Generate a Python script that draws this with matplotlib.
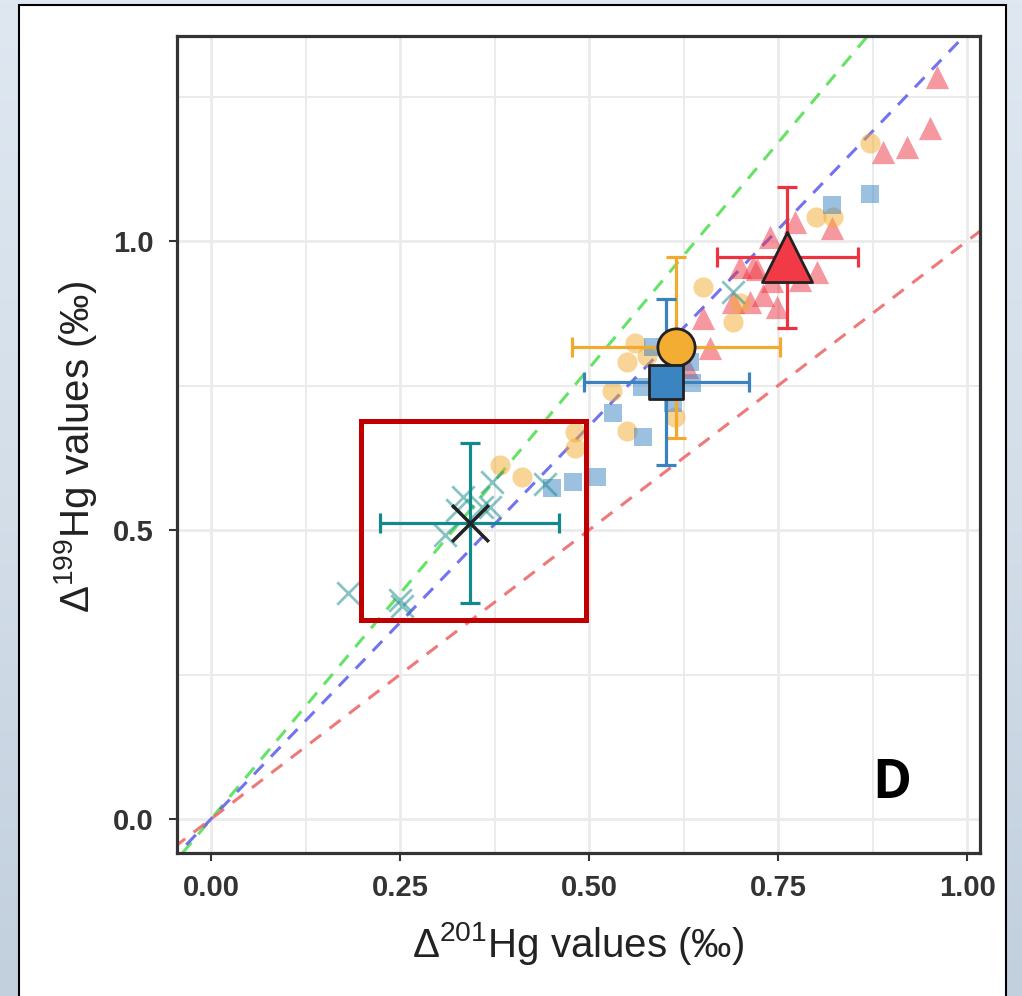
import numpy as np
import matplotlib.pyplot as plt
from matplotlib.patches import Rectangle

plt.rcParams['font.family'] = ['Liberation Sans', 'DejaVu Sans']

# individual samples (D201Hg, D199Hg)
tri_x = [0.960, 0.951, 0.921, 0.889, 0.821, 0.772, 0.739, 0.700, 0.717, 0.802,
         0.779, 0.690, 0.713, 0.730, 0.749, 0.651, 0.660, 0.630, 0.722, 0.742]
tri_y = [1.284, 1.195, 1.163, 1.154, 1.022, 1.033, 1.007, 0.955, 0.955, 0.946,
         0.933, 0.894, 0.894, 0.907, 0.886, 0.867, 0.815, 0.782, 0.951, 0.930]

circ_x = [0.872, 0.800, 0.823, 0.651, 0.700, 0.690, 0.561, 0.550, 0.577, 0.530,
          0.550, 0.614, 0.481, 0.481, 0.382, 0.411]
circ_y = [1.170, 1.042, 1.042, 0.920, 0.893, 0.860, 0.824, 0.791, 0.801, 0.740,
          0.671, 0.696, 0.670, 0.642, 0.612, 0.592]

sq_x = [0.872, 0.821, 0.585, 0.634, 0.636, 0.570, 0.532, 0.571, 0.611, 0.451,
        0.479, 0.511]
sq_y = [1.082, 1.062, 0.817, 0.791, 0.754, 0.747, 0.702, 0.661, 0.720, 0.573,
        0.583, 0.592]

cross_x = [0.181, 0.250, 0.253, 0.310, 0.325, 0.333, 0.358, 0.372, 0.369, 0.442, 0.690]
cross_y = [0.391, 0.379, 0.368, 0.491, 0.535, 0.557, 0.540, 0.583, 0.540, 0.580, 0.912]

# group means +/- sd
mean_x = [0.762, 0.615, 0.602, 0.342]
mean_y = [0.972, 0.816, 0.756, 0.512]
sd_x = [0.093, 0.137, 0.109, 0.118]
sd_y = [0.122, 0.157, 0.144, 0.139]

# reference slopes (D199/D201)
slopes = [1.56, 1.36, 1.00]
slope_cols = ['#55e055', '#6464ee', '#ee6a6a']

# highlighted box (data coords)
box_x = [0.199, 0.496]
box_y = [0.345, 0.689]

red = '#ee3340'
orange = '#f2aa2e'
blue = '#3a82c0'
teal = '#13898b'

fig = plt.figure(figsize=(10.22, 9.96), dpi=100)

# slide background
bg = fig.add_axes([0, 0, 1, 1], zorder=-10)
grad = np.linspace(0, 1, 256)[:, None]
bg.imshow(grad, aspect='auto', cmap=plt.matplotlib.colors.LinearSegmentedColormap.from_list(
    'bg', ['#dfe8f1', '#d3dee9', '#c2cfdd']), extent=[0, 1, 0, 1])
bg.set_xlim(0, 1)
bg.set_ylim(0, 1)
bg.axis('off')
bg.add_patch(Rectangle((19 / 1022, -0.01), 987 / 1022, 1.01 - 5 / 996,
                       facecolor='white', edgecolor='black', lw=1.5))

ax = fig.add_axes([177 / 1022, 1 - 853 / 996, 803 / 1022, 817 / 996])
ax.set_xlim(-0.045, 1.017)
ax.set_ylim(-0.0588, 1.3547)

xs = np.array([-0.1, 1.1])
for s, c in zip(slopes, slope_cols):
    ax.plot(xs, s * xs, ls=(0, (4.5, 3.5)), color=c, lw=2.2, alpha=0.9, zorder=2)

ax.scatter(tri_x, tri_y, marker='^', s=280, color=red, alpha=0.5, lw=0, zorder=3)
ax.scatter(circ_x, circ_y, marker='o', s=210, color=orange, alpha=0.5, lw=0, zorder=3)
ax.scatter(sq_x, sq_y, marker='s', s=180, color=blue, alpha=0.5, lw=0, zorder=3)
ax.scatter(cross_x, cross_y, marker='x', s=260, color=teal, alpha=0.5, lw=2, zorder=3)

err_cols = [red, orange, blue, teal]
for i in range(4):
    ax.errorbar(mean_x[i], mean_y[i], xerr=sd_x[i], yerr=sd_y[i], fmt='none',
                ecolor=err_cols[i], elinewidth=2.3, capsize=7, capthick=2.3, zorder=4)

ax.scatter(mean_x[0], mean_y[0], marker='^', s=1300, color='#f23a46', edgecolor='#222222', lw=2, zorder=5)
ax.scatter(mean_x[1], mean_y[1], marker='o', s=720, color='#f2ad32', edgecolor='#222222', lw=2, zorder=5)
ax.scatter(mean_x[2], mean_y[2], marker='s', s=600, color='#3a84c2', edgecolor='#222222', lw=2, zorder=5)
ax.scatter(mean_x[3], mean_y[3], marker='x', s=700, color='#222222', lw=2.5, zorder=5)

ax.add_patch(Rectangle((box_x[0], box_y[0]), box_x[1] - box_x[0], box_y[1] - box_y[0],
                       fill=False, edgecolor='#c00000', lw=3.6, zorder=6))

ax.text(0.890, 0.0845, 'D', transform=ax.transAxes, ha='center', va='center',
        fontsize=38, fontweight='bold', family=['Open Sans', 'DejaVu Sans'])

ax.set_xticks([0, 0.25, 0.5, 0.75, 1.0])
ax.set_xticklabels(['0.00', '0.25', '0.50', '0.75', '1.00'])
ax.set_xticks([0.125, 0.375, 0.625, 0.875], minor=True)
ax.set_yticks([0, 0.5, 1.0])
ax.set_yticklabels(['0.0', '0.5', '1.0'])
ax.set_yticks([0.25, 0.75, 1.25], minor=True)
ax.tick_params(which='major', length=6, width=1.5, color='#333333', labelsize=21,
               labelcolor='#333333')
ax.tick_params(axis='x', pad=9)
ax.tick_params(axis='y', pad=11)
ax.tick_params(which='minor', length=0)
for lab in ax.get_xticklabels() + ax.get_yticklabels():
    lab.set_fontweight('bold')

ax.grid(which='major', color='#ebebeb', lw=2)
ax.grid(which='minor', color='#ebebeb', lw=1.4)
ax.set_axisbelow(True)
for sp in ax.spines.values():
    sp.set_linewidth(2.3)
    sp.set_color('#333333')

ax.set_xlabel(r'$\mathregular{Δ^{201}}$Hg values (‰)', fontsize=29, color='#222222')
ax.set_ylabel(r'$\mathregular{Δ^{199}}$Hg values (‰)', fontsize=29, color='#222222')
ax.xaxis.set_label_coords(0.5, -0.082)
ax.yaxis.set_label_coords(-0.097, 0.497)

fig.savefig('out.png', dpi=100)
